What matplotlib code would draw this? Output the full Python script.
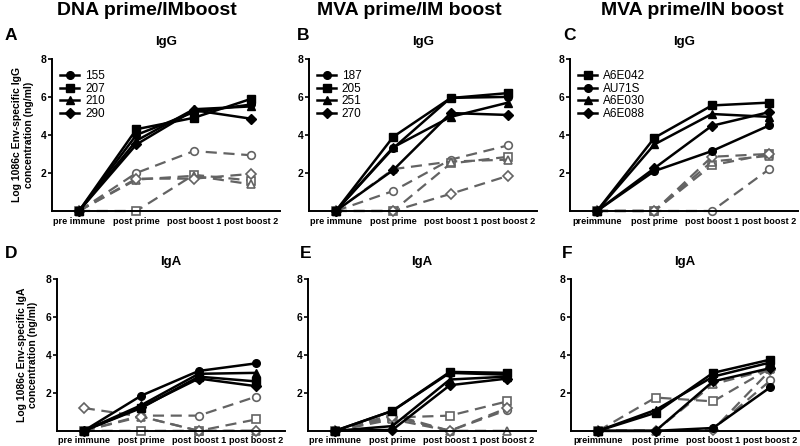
import matplotlib.pyplot as plt

plt.rcParams['font.family'] = ['Liberation Sans', 'DejaVu Sans']

# x categories
time_points = ['pre immune', 'post prime', 'post boost 1', 'post boost 2']
time_points_c = ['preimmune', 'post prime', 'post boost 1', 'post boost 2']

# animal ids per group (legend)
ids_dna = ['155', '207', '210', '290']
ids_mva_im = ['187', '205', '251', '270']
ids_mva_in = ['A6E042', 'AU71S', 'A6E030', 'A6E088']

# marker for each animal
mk_dna = ['o', 's', '^', 'D']
mk_mva_im = ['o', 's', '^', 'D']
mk_mva_in = ['s', 'o', '^', 'D']

# IgG, solid = serum, dashed = mucosal (log ng/ml)
igg_dna_solid = [[0, 4.0, 5.2, 5.6], [0, 4.3, 4.9, 5.9], [0, 3.7, 5.35, 5.5], [0, 3.5, 5.3, 4.85]]
igg_dna_dash = [[0, 2.0, 3.15, 2.93], [0, 0, 1.9, 1.6], [0, 1.65, 1.85, 1.4], [0, 1.7, 1.7, 1.95]]

igg_mva_im_solid = [[0, 3.3, 5.95, 6.0], [0, 3.9, 5.94, 6.2], [0, 3.35, 4.95, 5.7], [0, 2.15, 5.15, 5.05]]
igg_mva_im_dash = [[0, 1.05, 2.7, 3.45], [0, 0, 2.5, 2.85], [0, 2.2, 2.6, 2.7], [0, 0, 0.9, 1.85]]

igg_mva_in_solid = [[0, 3.85, 5.55, 5.7], [0, 2.1, 3.15, 4.5], [0, 3.5, 5.1, 4.95], [0, 2.25, 4.48, 5.2]]
igg_mva_in_dash = [[0, 0, 2.4, 3.0], [0, 0, 0, 2.2], [0, 0, 2.6, 2.9], [0, 0, 2.85, 3.0]]

# IgA
iga_dna_solid = [[0, 1.85, 3.15, 3.55], [0, 1.2, 2.85, 2.6], [0, 1.35, 3.0, 3.05], [0, 1.25, 2.75, 2.35]]
iga_dna_dash = [[0, 0.8, 0.8, 1.8], [0, 0, 0, 0.6], [0, 0.75, 0, 0], [1.2, 0.75, 0, 0]]

iga_mva_im_solid = [[0, 1.05, 3.05, 2.95], [0, 1.05, 3.1, 3.05], [0, 0.25, 2.7, 2.85], [0, 0.05, 2.4, 2.75]]
iga_mva_im_dash = [[0, 0.85, 0, 1.1], [0, 0.7, 0.8, 1.55], [0, 0.6, 0, 0], [0, 0.75, 0, 1.2]]

iga_mva_in_solid = [[0, 0.95, 3.05, 3.75], [0, 0, 0.15, 2.3], [0, 1.1, 2.85, 3.6], [0, 0, 2.6, 3.3]]
iga_mva_in_dash = [[0, 1.75, 1.55, 3.3], [0, 0, 0.1, 2.65], [0, 0, 2.45, 3.25], [0, 0, 0.05, 3.2]]

fig = plt.figure(figsize=(8, 4.46), dpi=100)

panels = [
    # letter, letter pos (px), title, rect, xlabels, ids, markers, solid, dashed, legend, ylabel
    ('A', (5, 35), 'IgG', [0.065, 0.527, 0.285, 0.341], time_points, ids_dna, mk_dna, igg_dna_solid, igg_dna_dash, True,
     'Log 1086c Env-specific IgG\nconcentration (ng/ml)'),
    ('B', (297, 35), 'IgG', [0.386, 0.527, 0.285, 0.341], time_points, ids_mva_im, mk_mva_im, igg_mva_im_solid, igg_mva_im_dash, True, None),
    ('C', (563, 35), 'IgG', [0.7125, 0.527, 0.285, 0.341], time_points_c, ids_mva_in, mk_mva_in, igg_mva_in_solid, igg_mva_in_dash, True, None),
    ('D', (5, 253), 'IgA', [0.071, 0.034, 0.285, 0.341], time_points, ids_dna, mk_dna, iga_dna_solid, iga_dna_dash, False,
     'Log 1086c Env-specific IgA\nconcentration (ng/ml)'),
    ('E', (300, 253), 'IgA', [0.385, 0.034, 0.285, 0.341], time_points, ids_mva_im, mk_mva_im, iga_mva_im_solid, iga_mva_im_dash, False, None),
    ('F', (562, 253), 'IgA', [0.714, 0.034, 0.285, 0.341], time_points_c, ids_mva_in, mk_mva_in, iga_mva_in_solid, iga_mva_in_dash, False, None),
]

gray = '#636363'

for letter, lpos, title, rect, xlabels, ids, mks, solid, dashed, show_leg, ylab in panels:
    ax = fig.add_axes(rect)
    x = range(len(xlabels))
    # dashed gray lines with open markers first
    for vals, m in zip(dashed, mks):
        ax.plot(x, vals, linestyle=(0, (5, 3)), color=gray, lw=1.6, marker=m, ms=5.5 if m != 'D' else 5,
                mfc='white', mec=gray, mew=1.2, clip_on=False, zorder=2)
    for vals, m, name in zip(solid, mks, ids):
        ax.plot(x, vals, '-', color='black', lw=1.8, marker=m, ms=5.5 if m != 'D' else 5,
                clip_on=False, zorder=3, label=name)

    ax.set_xlim(-0.47, 3.5)
    ax.set_ylim(0, 8)
    ax.set_yticks([2, 4, 6, 8])
    ax.set_xticks(list(x))
    ax.set_xticklabels(xlabels, fontsize=6.6, fontweight='bold')
    for lab in ax.get_yticklabels():
        lab.set_fontsize(7.5)
        lab.set_fontweight('bold')
    ax.tick_params(axis='y', length=3, width=1.2, pad=1)
    ax.tick_params(axis='x', length=0, pad=4)
    for s in ['top', 'right']:
        ax.spines[s].set_visible(False)
    for s in ['left', 'bottom']:
        ax.spines[s].set_linewidth(1.4)

    ax.set_title(title, fontsize=9.5, fontweight='bold', pad=10)
    fig.text(lpos[0] / 800, 1 - lpos[1] / 446, letter, fontsize=12.5, fontweight='bold', ha='left', va='center')

    if ylab:
        ax.set_ylabel(ylab, fontsize=7.5, fontweight='bold', labelpad=5)

    if show_leg:
        ax.legend(loc='upper left', bbox_to_anchor=(0.0, 0.98), frameon=False, fontsize=8.5,
                  handlelength=1.6, handletextpad=0.5, labelspacing=0.05, borderaxespad=0.3)

fig.text(0.183, 0.966, 'DNA prime/IMboost', fontsize=14, fontweight='bold', ha='center', va='baseline')
fig.text(0.512, 0.966, 'MVA prime/IM boost', fontsize=14, fontweight='bold', ha='center', va='baseline')
fig.text(0.865, 0.966, 'MVA prime/IN boost', fontsize=14, fontweight='bold', ha='center', va='baseline')

fig.savefig('out.png', dpi=100)
